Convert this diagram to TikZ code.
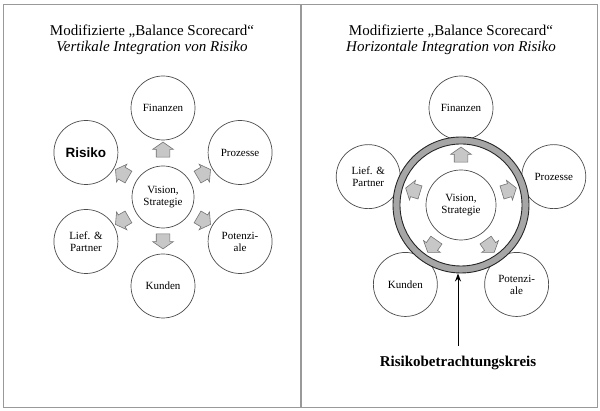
\documentclass[tikz,border=0pt]{standalone}
\usepackage{fontspec}
\setmainfont{Liberation Serif}
\setsansfont{Liberation Sans}
\usetikzlibrary{positioning,arrows.meta,calc,shapes.arrows}

\begin{document}
\begin{tikzpicture}[
  x=1pt,y=1pt,
  frame/.style={draw=black!40, line width=0.9pt},
  bsc/.style={circle, draw=black!70, line width=0.7pt, fill=white, minimum size=64pt, inner sep=0pt, align=center, font=\fontsize{11}{12}\selectfont},
  blockarrow/.style={single arrow, draw=black!55, fill=black!22, line width=0.6pt, minimum width=20pt, minimum height=15pt, single arrow head extend=3.5pt, single arrow tip angle=110, inner xsep=0pt, inner ysep=6.5pt},
  title/.style={align=center, font=\fontsize{15}{16}\selectfont}
]
\useasboundingbox (0,0) rectangle (600,411);
\draw[frame] (3,4) rectangle (300,407);
\draw[frame] (301,4) rectangle (597,407);

% left panel: vertikale Integration
\node[title] (titleV) at (152,371) {Modifizierte „Balance Scorecard“\\\textit{Vertikale Integration von Risiko}};
\node[bsc, minimum size=62pt] (visV) at (163,214) {Vision,\\Strategie};
\node[bsc] (finV) at ($(visV)+(90:89)$) {Finanzen};
\node[bsc] (proV) at ($(visV)+(30:89)$) {Prozesse};
\node[bsc, font=\sffamily\bfseries\fontsize{13.5}{15}\selectfont] (risV) at ($(visV)+(150:89)$) {Risiko};
\node[bsc] (potV) at ($(visV)+(-30:89)$) {Potenzi-\\ale};
\node[bsc] (lieV) at ($(visV)+(-150:89)$) {Lief. \&\\Partner};
\node[bsc] (kunV) at ($(visV)+(-90:89)$) {Kunden};
\foreach \a/\d in {90/45,30/45,150/45,-30/45,-150/45,-90/42}
  \node[blockarrow, rotate=\a] (arV\a) at ($(visV)+(\a:\d)$) {};

% right panel: horizontale Integration
\node[title] (titleH) at (451,371) {Modifizierte „Balance Scorecard“\\\textit{Horizontale Integration von Risiko}};
\coordinate (mid) at (461,206);
\node[bsc] (finH) at ($(mid)+(90:97)$) {Finanzen};
\node[bsc] (proH) at ($(mid)+(17:97)$) {Prozesse};
\node[bsc] (lieH) at ($(mid)+(163:97)$) {Lief. \&\\Partner};
\node[bsc] (kunH) at ($(mid)+(-125:97)$) {Kunden};
\node[bsc] (potH) at ($(mid)+(-55:97)$) {Potenzi-\\ale};
\node[circle, draw=black!85, line width=0.9pt, fill=black!35, minimum size=136pt, inner sep=0pt] (ring) at (mid) {};
\node[circle, draw=black!85, line width=0.9pt, fill=white, minimum size=122pt, inner sep=0pt] (ringIn) at (mid) {};
\node[bsc, minimum size=70pt] (visH) at (mid) {Vision,\\Strategie};
\foreach \a in {90,17,163,-125,-55}
  \node[blockarrow, rotate=\a] (arH\a) at ($(mid)+(\a:48)$) {};

\node[font=\bfseries\fontsize{15}{16}\selectfont] (kreis) at (458,48) {Risikobetrachtungskreis};
\draw[-{Stealth[length=8pt,width=6pt]}, line width=1pt, shorten <=7pt] (kreis.north) -- (kreis.north |- ring.south);
\end{tikzpicture}
\end{document}
